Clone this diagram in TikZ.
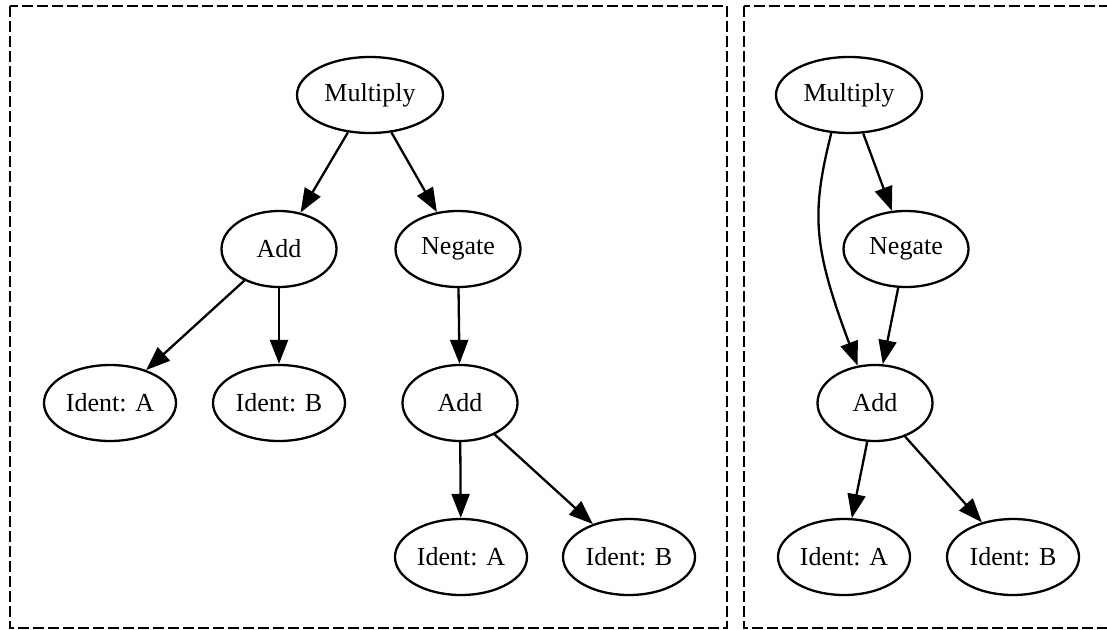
\documentclass[tikz,border=0pt]{standalone}
\usepackage{fontspec}
\setmainfont{Liberation Serif}
\usetikzlibrary{shapes.geometric,arrows.meta}

\tikzset{
  gnode/.style={ellipse, draw, line width=2.3pt, inner sep=0pt,
    minimum height=76pt, font=\fontsize{26}{30}\selectfont},
  wmul/.style={minimum width=146pt},
  wadd/.style={minimum width=115pt},
  wneg/.style={minimum width=125pt},
  wid/.style={minimum width=132pt},
  edge/.style={line width=2.3pt, -{Triangle[length=24pt,width=18pt]}},
  frame/.style={draw, line width=2.2pt, dash pattern=on 11pt off 4pt}
}

\begin{document}
\begin{tikzpicture}[x=1pt, y=-1pt]
  \useasboundingbox (0,0) rectangle (1107,629);

  % two dashed panels
  \draw[frame] (10,6) rectangle (727,628);
  \draw[frame] (744,6) rectangle (1115,628);

  % left tree
  \node[gnode, wmul] (m1)  at (370,95)  {Multiply};
  \node[gnode, wadd] (a1)  at (279,249) {Add};
  \node[gnode, wneg] (n1)  at (458,249) {Negate};
  \node[gnode, wid]  (ia1) at (110,403) {Ident: A};
  \node[gnode, wid]  (ib1) at (279,403) {Ident: B};
  \node[gnode, wadd] (a1b) at (460,403) {Add};
  \node[gnode, wid]  (ia2) at (461,557) {Ident: A};
  \node[gnode, wid]  (ib2) at (629,557) {Ident: B};

  \draw[edge] (m1) -- (a1);
  \draw[edge] (m1) -- (n1);
  \draw[edge] (a1) -- (ia1);
  \draw[edge] (a1) -- (ib1);
  \draw[edge] (n1) -- (a1b);
  \draw[edge] (a1b) -- (ia2);
  \draw[edge] (a1b) -- (ib2);

  % right graph with the shared Add node
  \node[gnode, wmul] (m2)  at (849,95)  {Multiply};
  \node[gnode, wneg] (n2)  at (906,249) {Negate};
  \node[gnode, wadd] (a2)  at (875,403) {Add};
  \node[gnode, wid]  (ia3) at (844,557) {Ident: A};
  \node[gnode, wid]  (ib3) at (1013,557) {Ident: B};

  \draw[edge] (m2) -- (n2);
  \draw[edge] (m2.245) .. controls +(-20,80) and +(-45,-120) .. (a2.115);
  \draw[edge] (n2) -- (a2);
  \draw[edge] (a2) -- (ia3);
  \draw[edge] (a2) -- (ib3);
\end{tikzpicture}
\end{document}
